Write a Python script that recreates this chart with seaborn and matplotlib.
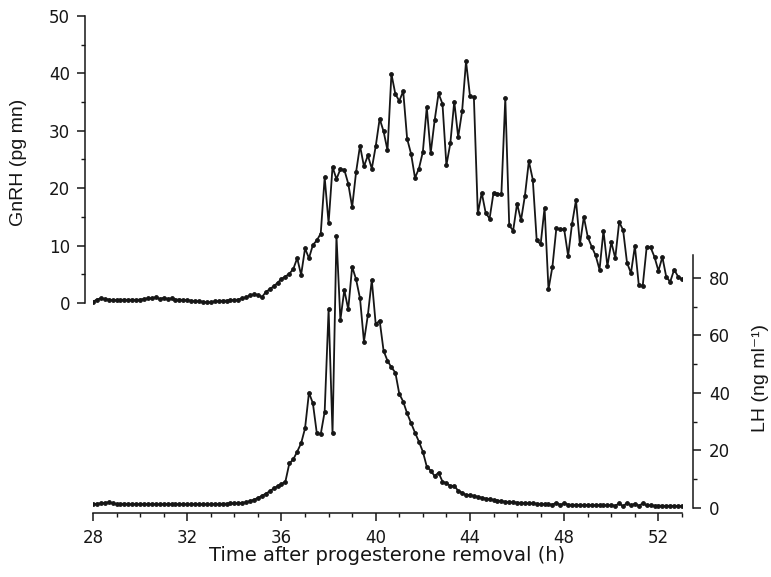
import matplotlib

matplotlib.use("Agg")

import matplotlib.pyplot as plt
import numpy as np
import seaborn as sns

# samples every 10 min from 28 h to 53 h after progesterone removal
SAMPLE_STEP_H = 10 / 60
time_h = 28 + np.arange(151) * SAMPLE_STEP_H

gnrh_pg = [
    0.2, 0.6, 0.8, 0.7, 0.6, 0.5,
    0.5, 0.5, 0.6, 0.5, 0.6, 0.5,
    0.6, 0.7, 0.8, 0.8, 1.0, 0.7,
    0.9, 0.7, 0.8, 0.6, 0.6, 0.5,
    0.5, 0.4, 0.3, 0.3, 0.2, 0.1,
    0.1, 0.3, 0.3, 0.4, 0.4, 0.5,
    0.5, 0.6, 0.8, 1.0, 1.3, 1.5,
    1.4, 1.0, 1.9, 2.4, 2.9, 3.5,
    4.2, 4.6, 5.1, 5.9,
    7.8, 4.9, 9.5, 7.8, 10.1, 10.9, 12.1, 21.9, 13.9, 23.7,
    21.6, 23.3, 23.2, 20.8, 16.7, 22.8, 27.4, 23.8, 25.7, 23.4,
    27.3, 32.1, 29.9, 26.6, 39.9, 36.4, 35.2, 36.9, 28.6, 26.0,
    21.8, 23.4, 26.3, 34.1, 26.1, 31.8, 36.5, 34.7, 24.0, 27.8,
    35.1, 28.9, 33.4, 42.1, 36.1, 35.8, 15.6, 19.2, 15.7, 14.7,
    19.2, 19.0, 18.9, 35.7, 13.5, 12.6, 17.3, 14.4, 18.7, 24.7,
    21.5, 10.9, 10.2, 16.6, 2.4, 6.3, 13.0, 12.8, 12.8, 8.2,
    13.8, 17.9, 10.2, 15.0, 11.5, 9.8, 8.3, 5.8, 12.6, 6.4,
    10.6, 7.8, 14.1, 12.7, 7.0, 5.2, 9.9, 3.1, 3.0, 9.7,
    9.7, 8.0, 5.6, 8.0, 4.5, 3.7, 5.8, 4.6, 4.1,
]

lh_ng = [
    1.3, 1.5, 1.6, 1.8, 2.0, 1.6,
    1.4, 1.4, 1.5, 1.4, 1.3, 1.4,
    1.4, 1.3, 1.4, 1.4, 1.3, 1.3,
    1.3, 1.4, 1.3, 1.3, 1.4, 1.3,
    1.3, 1.3, 1.4, 1.3, 1.3, 1.3,
    1.3, 1.4, 1.4, 1.5, 1.5, 1.6,
    1.6, 1.7, 1.8, 2.0, 2.4, 2.9,
    3.5, 4.2, 5.0, 5.8, 6.8, 7.6,
    8.3, 9.2, 15.5, 16.9, 19.6, 22.5, 27.7, 40.1, 36.4, 26.0,
    25.7, 33.5, 69.1, 26.0, 94.6, 65.4, 75.8, 69.1, 83.9, 79.5,
    72.9, 57.9, 67.1, 79.3, 63.9, 65.2, 54.7, 51.2, 48.9, 47.1,
    39.7, 37.0, 32.9, 29.5, 26.2, 23.1, 19.6, 14.4, 13.0, 11.1,
    12.3, 9.2, 8.6, 7.7, 7.7, 6.0, 5.3, 4.5, 4.5,
    4.2, 3.9, 3.6, 3.3, 3.1, 2.8,
    2.6, 2.4, 2.2, 2.1, 2.0, 1.9,
    1.8, 1.7, 1.6, 1.6, 1.5, 1.4,
    1.3, 1.3, 1.2, 1.8, 1.1, 1.6,
    1.2, 1.1, 1.1, 1.0, 1.0, 1.1,
    1.0, 0.9, 1.0, 0.9, 0.9, 1.0,
    0.8, 1.6, 0.6, 1.8, 0.9, 1.5,
    0.8, 1.6, 0.9, 0.9, 0.8, 0.8,
    0.8, 0.7, 0.8, 0.7, 0.7, 0.7,
]

x_ticks = [28, 32, 36, 40, 44, 48, 52]
gnrh_ticks = [0, 10, 20, 30, 40, 50]
lh_ticks = [0, 20, 40, 60, 80]

INK = "#161616"
WIDE = ["DejaVu Sans"]                      # horizontal text is stretched in the scan
NARROW = ["Liberation Sans", "DejaVu Sans"]  # rotated labels

sns.set_style("ticks")
plt.rcParams["font.family"] = WIDE

fig = plt.figure(figsize=(7.71, 5.77), dpi=100)
# axes box in pixels: x 93..682, y 16..513 (from top)
ax = fig.add_axes([93 / 771, 64 / 577, 589 / 771, 497 / 577])
ax2 = ax.twinx()

line_kw = dict(color=INK, marker="o", markersize=2.8, markeredgecolor=INK,
               markeredgewidth=0.6, linewidth=1.3, estimator=None)
sns.lineplot(x=time_h, y=gnrh_pg, ax=ax, **line_kw)
sns.lineplot(x=time_h, y=lh_ng, ax=ax2, **line_kw)

ax.set_xlim(28, 53)
ax.set_ylim(-36.6, 50)
ax2.set_ylim(-1.74, 171.1)

ax.set_xticks(x_ticks)
ax.set_xticks(np.arange(28, 54), minor=True)
ax.set_yticks(gnrh_ticks)
ax.set_yticks([5, 15, 25, 35, 45], minor=True)
ax2.set_yticks(lh_ticks)
ax2.set_yticks([10, 30, 50, 70], minor=True)

for side in ["top", "right"]:
    ax.spines[side].set_visible(False)
for side in ["top", "left", "bottom"]:
    ax2.spines[side].set_visible(False)

ax.spines["left"].set_bounds(0, 50)
ax.spines["left"].set_position(("outward", 6))
ax.spines["bottom"].set_bounds(28, 53)
ax2.spines["right"].set_bounds(0, 88)
ax2.spines["right"].set_position(("outward", 8))
for spine in [ax.spines["left"], ax.spines["bottom"], ax2.spines["right"]]:
    spine.set_linewidth(1.1)
    spine.set_color(INK)

for a in (ax, ax2):
    a.tick_params(which="major", direction="out", length=5.5, width=1.1,
                  colors=INK, labelsize=12, pad=5)
    a.tick_params(which="minor", direction="out", length=3, width=1.0, colors=INK)
ax.tick_params(axis="x", pad=6)
ax2.tick_params(axis="y", pad=6)

ax.set_xlabel("Time after progesterone removal (h)", fontsize=14, color=INK)
ax.set_ylabel("GnRH (pg mn)", fontsize=14, color=INK, family=NARROW)
ax2.set_ylabel("LH (ng ml⁻¹)", fontsize=14, color=INK, family=NARROW)
ax.xaxis.set_label_coords(0.5, -0.066)
ax.yaxis.set_label_coords(-0.112, 0.705)
ax2.yaxis.set_label_coords(1.118, 0.272)

fig.savefig("out.png", dpi=100)
plt.close(fig)
